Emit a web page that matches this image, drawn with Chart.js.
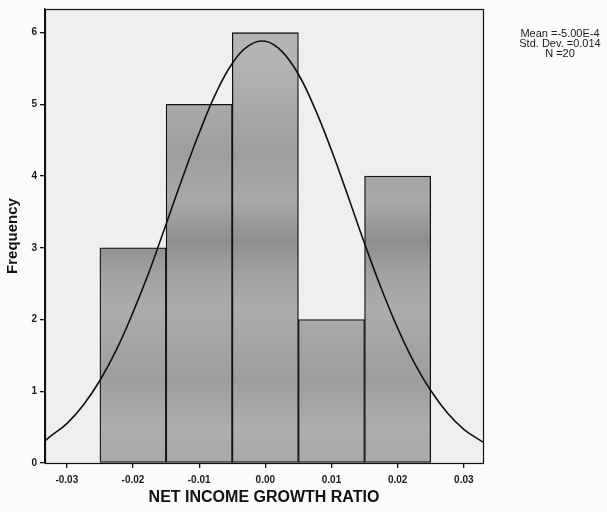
<!DOCTYPE html>
<html>
<head>
<meta charset="utf-8">
<script src="https://cdn.jsdelivr.net/npm/chart.js@4/dist/chart.umd.min.js"></script>
<style>
  html, body { margin: 0; padding: 0; background: #fbfbfb; }
  canvas { display: block; }
</style>
</head>
<body>
<canvas id="hist" width="607" height="512"></canvas>
<script>
// Histogram bins (bin centres) and their counts
const binCenters = [-0.02, -0.01, 0.00, 0.01, 0.02];
const binCounts  = [3, 5, 6, 2, 4];

// Fitted normal curve, sampled along the x range
const curveX = [-0.0333, -0.0325, -0.03, -0.0275, -0.025, -0.0225, -0.02, -0.0175, -0.015, -0.0125,
                -0.01, -0.0075, -0.005, -0.0025, 0, 0.0025, 0.005, 0.0075, 0.01, 0.0125,
                0.015, 0.0175, 0.02, 0.0225, 0.025, 0.0275, 0.03, 0.0329];
const curveY = [0.31, 0.37, 0.55, 0.81, 1.15, 1.58, 2.10, 2.68, 3.33, 3.98,
                4.60, 5.15, 5.57, 5.82, 5.88, 5.74, 5.42, 4.94, 4.36, 3.72,
                3.06, 2.44, 1.88, 1.40, 1.01, 0.70, 0.47, 0.29];

// Axis ticks
const xTicks = [-0.03, -0.02, -0.01, 0.00, 0.01, 0.02, 0.03];
const yTicks = [0, 1, 2, 3, 4, 5, 6];

// Summary statistics shown beside the plot
const statsLines = ['Mean =-5.00E-4', 'Std. Dev. =0.014', 'N =20'];

const barData = binCenters.map((x, i) => ({ x: x, y: binCounts[i] }));
const curveData = curveX.map((x, i) => ({ x: x, y: curveY[i] }));

const frame = {
  id: 'frame',
  beforeDatasetsDraw(chart) {
    const { ctx, chartArea: a } = chart;
    ctx.save();
    ctx.fillStyle = '#efefef';
    ctx.fillRect(a.left, a.top, a.right - a.left, a.bottom - a.top);
    ctx.restore();
  },
  afterDatasetsDraw(chart) {
    const { ctx, chartArea: a } = chart;
    ctx.save();
    ctx.strokeStyle = '#111';
    ctx.lineWidth = 1.2;
    ctx.strokeRect(a.left + 0.5, a.top + 0.5, a.right - a.left, a.bottom - a.top);
    ctx.restore();
  },
  afterDraw(chart) {
    const { ctx } = chart;
    ctx.save();
    ctx.fillStyle = '#1a1a1a';
    ctx.font = '11px "Liberation Sans", Arial, sans-serif';
    ctx.textAlign = 'center';
    ctx.textBaseline = 'middle';
    statsLines.forEach((t, i) => ctx.fillText(t, 560, 34 + i * 10));
    ctx.restore();
  }
};

// Banded grey fill for the bars
function barFill(context) {
  const chart = context.chart;
  const a = chart.chartArea;
  if (!a) return '#a6a6a6';
  const g = chart.ctx.createLinearGradient(0, a.top, 0, a.bottom);
  g.addColorStop(0.00, '#b8b8b8');
  g.addColorStop(0.12, '#b3b3b3');
  g.addColorStop(0.32, '#9e9e9e');
  g.addColorStop(0.42, '#a9a9a9');
  g.addColorStop(0.51, '#8f8f8f');
  g.addColorStop(0.58, '#a1a1a1');
  g.addColorStop(0.66, '#acacac');
  g.addColorStop(0.82, '#9d9d9d');
  g.addColorStop(0.92, '#aeaeae');
  g.addColorStop(1.00, '#a9a9a9');
  return g;
}

const tickFont = { family: '"Liberation Sans", Arial, sans-serif', size: 10, weight: 'bold' };

new Chart(document.getElementById('hist'), {
  data: {
    datasets: [
      {
        type: 'line',
        data: curveData,
        borderColor: '#111',
        borderWidth: 1.6,
        pointRadius: 0,
        tension: 0.4,
        fill: false,
        order: 0
      },
      {
        type: 'bar',
        data: barData,
        backgroundColor: barFill,
        borderColor: '#111',
        borderWidth: 1.3,
        borderSkipped: false,
        barPercentage: 1,
        categoryPercentage: 1,
        grouped: false,
        order: 1
      }
    ]
  },
  options: {
    responsive: false,
    animation: false,
    layout: { padding: { left: 0, top: 5, right: 124, bottom: 0 } },
    plugins: { legend: { display: false }, tooltip: { enabled: false } },
    scales: {
      x: {
        type: 'linear',
        offset: false,
        min: -0.0333,
        max: 0.0329,
        afterBuildTicks(scale) { scale.ticks = xTicks.map(v => ({ value: v })); },
        afterFit(scale) { scale.height = 49; },
        ticks: {
          color: '#1a1a1a',
          font: tickFont,
          padding: 6,
          callback: v => (Math.abs(v) < 1e-9 ? 0 : v).toFixed(2)
        },
        grid: { display: true, offset: false, drawOnChartArea: false, drawTicks: true, tickLength: 5, color: '#111', lineWidth: 1.3 },
        border: { display: true, color: '#111', width: 1.3 },
        title: {
          display: true,
          text: 'NET INCOME GROWTH RATIO',
          color: '#111',
          font: { family: '"Liberation Sans", Arial, sans-serif', size: 16, weight: 'bold' },
          padding: { top: 0, bottom: 5 }
        }
      },
      y: {
        type: 'linear',
        min: 0,
        max: 6.33,
        afterBuildTicks(scale) { scale.ticks = yTicks.map(v => ({ value: v })); },
        afterFit(scale) { scale.width = 45; },
        ticks: { color: '#1a1a1a', font: tickFont, padding: 3, callback: v => String(v) },
        grid: { display: true, drawOnChartArea: false, drawTicks: true, tickLength: 5, color: '#111', lineWidth: 1.3 },
        border: { display: true, color: '#111', width: 1.3 },
        title: {
          display: true,
          text: 'Frequency',
          color: '#111',
          font: { family: '"Liberation Sans", Arial, sans-serif', size: 15, weight: 'bold' },
          padding: { top: 4, bottom: 0 }
        }
      }
    }
  },
  plugins: [frame]
});
</script>
</body>
</html>
